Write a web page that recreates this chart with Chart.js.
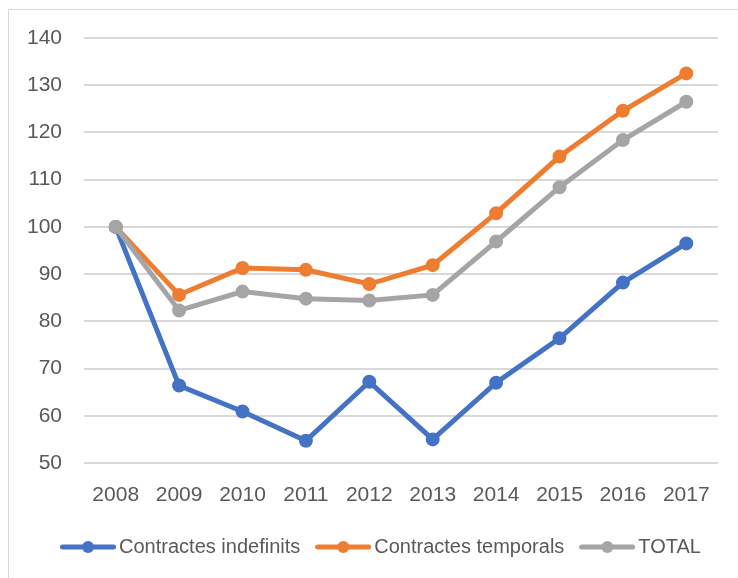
<!DOCTYPE html>
<html>
<head>
<meta charset="utf-8">
<script src="https://cdn.jsdelivr.net/npm/chart.js@4/dist/chart.umd.min.js"></script>
<style>
  html, body { margin: 0; padding: 0; background: #ffffff; }
  #wrap { width: 738px; height: 578px; position: relative; }
</style>
</head>
<body>
<div id="wrap"><canvas id="c" width="738" height="578"></canvas></div>
<script>
const years = ['2008', '2009', '2010', '2011', '2012', '2013', '2014', '2015', '2016', '2017'];
const indefinits = [100, 66.4, 60.9, 54.7, 67.2, 55.0, 67.0, 76.4, 88.2, 96.5];
const temporals = [100, 85.6, 91.3, 90.9, 87.9, 91.9, 102.9, 114.9, 124.6, 132.5];
const total = [100, 82.3, 86.3, 84.8, 84.4, 85.6, 96.9, 108.4, 118.4, 126.5];
const seriesNames = ['Contractes indefinits', 'Contractes temporals', 'TOTAL'];
const yMin = 50, yMax = 140, yStep = 10;

const colors = ['#4472C4', '#ED7D31', '#A5A5A5'];
const textColor = '#595959';

function legendIcon(color) {
  const cv = document.createElement('canvas');
  cv.width = 56; cv.height = 14;
  const g = cv.getContext('2d');
  g.strokeStyle = color; g.lineWidth = 5; g.lineCap = 'round';
  g.beginPath(); g.moveTo(2.5, 7); g.lineTo(53.5, 7); g.stroke();
  g.fillStyle = color;
  g.beginPath(); g.arc(28, 7, 6, 0, Math.PI * 2); g.fill();
  return cv;
}
const icons = colors.map(legendIcon);

const borderPlugin = {
  id: 'outerBorder',
  beforeDraw(chart) {
    const ctx = chart.ctx;
    ctx.save();
    ctx.fillStyle = '#ffffff';
    ctx.fillRect(0, 0, chart.width, chart.height);
    ctx.strokeStyle = '#d9d9d9';
    ctx.lineWidth = 1;
    ctx.strokeRect(8.5, 9.5, 900, 900);
    ctx.restore();
  }
};

const legendShift = {
  id: 'legendShift',
  afterLayout(chart) {
    const lg = chart.legend;
    if (lg) { lg.left += 25; lg.right += 25; }
  }
};

const mk = (label, data, i, order) => ({
  label, data, order,
  borderColor: colors[i], backgroundColor: colors[i],
  borderWidth: 5, tension: 0,
  pointRadius: 6, pointBorderWidth: 2,
  pointBackgroundColor: colors[i], pointBorderColor: colors[i],
  fill: false
});

new Chart(document.getElementById('c'), {
  type: 'line',
  data: {
    labels: years,
    datasets: [
      mk(seriesNames[0], indefinits, 0, 3),
      mk(seriesNames[1], temporals, 1, 2),
      mk(seriesNames[2], total, 2, 1)
    ]
  },
  options: {
    responsive: false,
    animation: false,
    layout: { padding: { top: 38, right: 20, bottom: 11, left: 0 } },
    plugins: {
      tooltip: { enabled: false },
      legend: {
        position: 'bottom',
        labels: {
          usePointStyle: true,
          pointStyleWidth: 42,
          padding: 22,
          color: textColor,
          font: { family: "'Liberation Sans', sans-serif", size: 20 },
          sort: (a, b) => a.datasetIndex - b.datasetIndex,
          generateLabels(chart) {
            const items = Chart.defaults.plugins.legend.labels.generateLabels(chart);
            items.forEach(it => { it.pointStyle = icons[it.datasetIndex]; });
            return items;
          }
        }
      }
    },
    scales: {
      x: {
        offset: true,
        grid: { display: false, drawTicks: false },
        border: { display: false },
        ticks: {
          color: textColor, padding: 20,
          maxRotation: 0, autoSkip: false,
          font: { family: "'Liberation Sans', sans-serif", size: 21 }
        },
        afterFit(scale) { scale.height = 52; }
      },
      y: {
        min: yMin, max: yMax,
        grid: { color: '#d9d9d9', lineWidth: 2, drawTicks: false },
        border: { display: false },
        ticks: {
          stepSize: yStep, color: textColor, padding: 22,
          font: { family: "'Liberation Sans', sans-serif", size: 21 }
        },
        afterFit(scale) { scale.width = 84; }
      }
    }
  },
  plugins: [borderPlugin, legendShift]
});
</script>
</body>
</html>
